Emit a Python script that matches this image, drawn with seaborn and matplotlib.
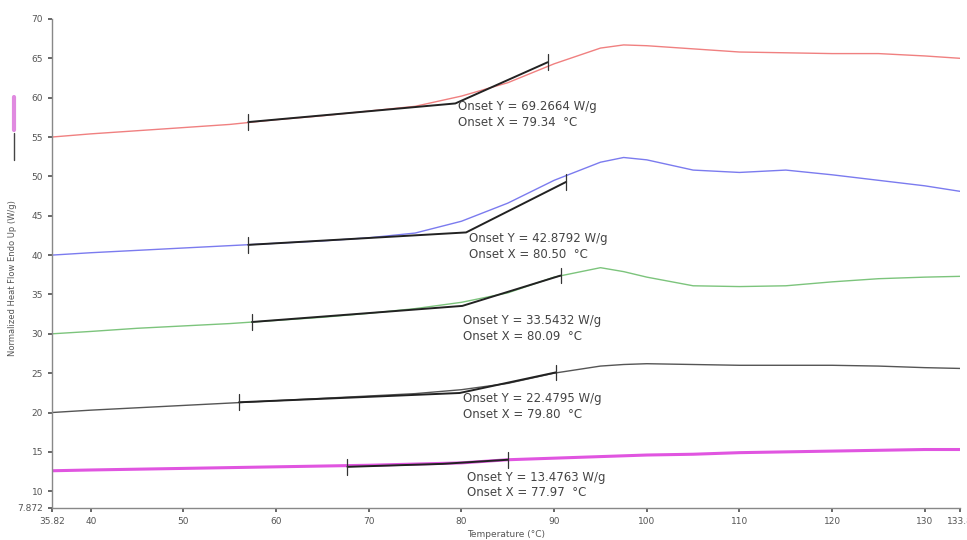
import numpy as np
import pandas as pd
import seaborn as sns
import matplotlib.pyplot as plt

# temperatures (deg C) and normalized heat flow (W/g)
temp = [35.82, 40, 45, 50, 55, 60, 65, 70, 75, 80, 85, 90, 95, 97.5, 100, 105,
        110, 115, 120, 125, 130, 133.8]
red = [55.0, 55.4, 55.8, 56.2, 56.6, 57.2, 57.7, 58.3, 58.9, 60.2, 61.9,
       64.3, 66.3, 66.7, 66.6, 66.2, 65.8, 65.7, 65.6, 65.6, 65.3, 65.0]
blue = [40.0, 40.3, 40.6, 40.9, 41.2, 41.5, 41.8, 42.2, 42.8, 44.3, 46.6,
        49.5, 51.8, 52.4, 52.1, 50.8, 50.5, 50.8, 50.2, 49.5, 48.8, 48.1]
green = [30.0, 30.3, 30.7, 31.0, 31.3, 31.7, 32.1, 32.6, 33.2, 34.0, 35.2,
         37.2, 38.4, 37.9, 37.2, 36.1, 36.0, 36.1, 36.6, 37.0, 37.2, 37.3]
black = [20.0, 20.3, 20.6, 20.9, 21.2, 21.5, 21.8, 22.1, 22.4, 22.9, 23.7,
         25.0, 25.9, 26.1, 26.2, 26.1, 26.0, 26.0, 26.0, 25.9, 25.7, 25.6]
magenta = [12.6, 12.7, 12.8, 12.9, 13.0, 13.1, 13.2, 13.3, 13.45, 13.6, 14.0,
           14.2, 14.4, 14.5, 14.6, 14.7, 14.9, 15.0, 15.1, 15.2, 15.3, 15.3]

# onset tangent constructions: (start x, start y), onset (x, y), (end x, end y)
tan_start = [(57.0, 56.9), (57.0, 41.3), (57.4, 31.5), (56.0, 21.3), (67.7, 13.1)]
onset_x = [79.34, 80.50, 80.09, 79.80, 77.97]
onset_y = [59.2664, 42.8792, 33.5432, 22.4795, 13.4763]
onset_ylab = ["69.2664", "42.8792", "33.5432", "22.4795", "13.4763"]
tan_end = [(89.3, 64.5), (91.3, 49.3), (90.7, 37.4), (90.2, 25.1), (85.0, 14.0)]
# label anchor (x, y) of "Onset Y" line
lab_pos = [(79.6, 58.9), (80.8, 42.1), (80.2, 31.7), (80.2, 21.8), (80.6, 11.8)]

xticks = [35.82, 40, 50, 60, 70, 80, 90, 100, 110, 120, 130, 133.8]
xticklabels = ["35.82", "40", "50", "60", "70", "80", "90", "100", "110", "120", "130", "133.8"]
yticks = [7.872, 10, 15, 20, 25, 30, 35, 40, 45, 50, 55, 60, 65, 70]
yticklabels = ["7.872"] + [str(v) for v in yticks[1:]]

sns.set_theme(style="white")
plt.rcParams['font.family'] = ['DejaVu Sans']

fig = plt.figure(figsize=(9.67, 5.4), dpi=100)
ax = fig.add_axes([0.0538, 0.0593, 0.939, 0.9056])

series = [("red", red, "#f08080", 1.0), ("blue", blue, "#7b7bef", 1.0),
          ("green", green, "#7cc47c", 1.0), ("black", black, "#555555", 1.0),
          ("magenta", magenta, "#e055e0", 2.2)]
for name, vals, col, lw in series:
    df = pd.DataFrame({"T": temp, "HF": vals})
    sns.lineplot(data=df, x="T", y="HF", ax=ax, color=col, linewidth=lw)

for i in range(5):
    xs = [tan_start[i][0], onset_x[i], tan_end[i][0]]
    ys = [tan_start[i][1], onset_y[i], tan_end[i][1]]
    ax.plot(xs, ys, color="#222222", linewidth=1.4)
    for px, py in (tan_start[i], tan_end[i]):
        ax.plot([px, px], [py - 1.0, py + 1.0], color="#333333", linewidth=0.9)
    lx, ly = lab_pos[i]
    ax.text(lx, ly, "Onset Y = %s W/g" % onset_ylab[i], fontsize=8.5,
            color="#444444", va="center")
    ax.text(lx, ly - 2.0, "Onset X = %.2f  \u00b0C" % onset_x[i], fontsize=8.5,
            color="#444444", va="center")

ax.set_xlim(35.82, 133.8)
ax.set_ylim(7.872, 70)
ax.set_xticks(xticks)
ax.set_xticklabels(xticklabels)
ax.set_yticks(yticks)
ax.set_yticklabels(yticklabels)
ax.tick_params(axis="both", labelsize=6.5, colors="#555555", length=3,
               direction="out", bottom=True, left=True)
for s in ["top", "right"]:
    ax.spines[s].set_visible(False)
for s in ["left", "bottom"]:
    ax.spines[s].set_color("#888888")
    ax.spines[s].set_linewidth(1.0)

ax.set_xlabel("Temperature (\u00b0C)", fontsize=6.5, color="#555555", labelpad=3)
ax.set_ylabel("")
fig.text(0.013, 0.485, "Normalized Heat Flow Endo Up (W/g)", rotation=90,
         fontsize=6, color="#555555", ha="center", va="center")
# legend-like marks beside the y label
fig.add_artist(plt.Line2D([0.0145, 0.0145], [1 - 97 / 540, 1 - 130 / 540],
                          color="#e08ae0", linewidth=3))
fig.add_artist(plt.Line2D([0.0145, 0.0145], [1 - 133 / 540, 1 - 160 / 540],
                          color="#444444", linewidth=1))

fig.savefig("out.png", dpi=100)
